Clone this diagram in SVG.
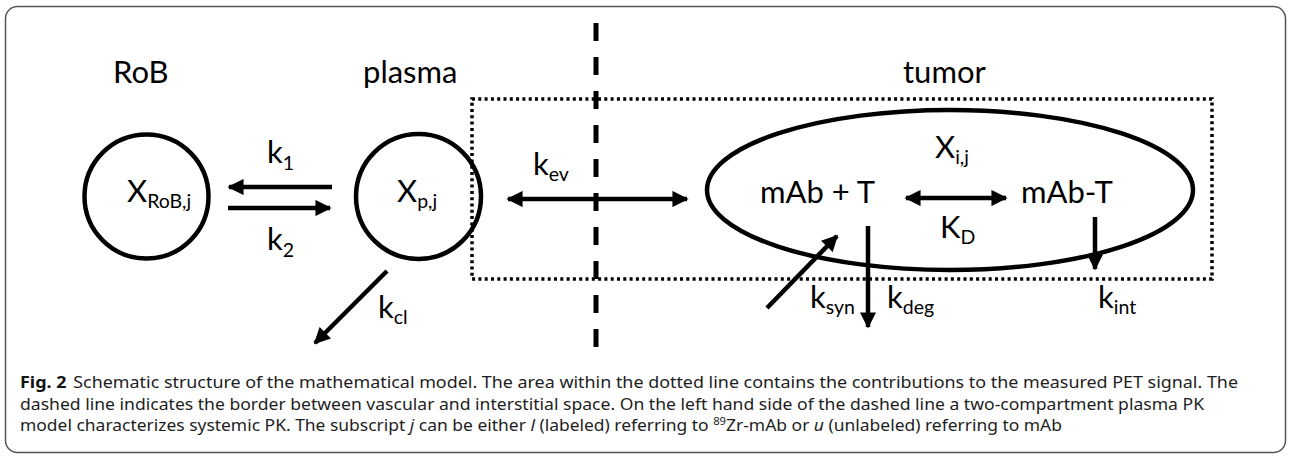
<svg xmlns="http://www.w3.org/2000/svg" width="1290" height="456" viewBox="0 0 1290 456">
<style>
.lbl{font-family:Lato,"Liberation Sans",sans-serif;font-size:31px;fill:#000}
.sub{font-size:19.5px}
.ln{stroke:#000;stroke-width:4.5;fill:none}
.cap{font-family:"Noto Sans","Liberation Sans",sans-serif;font-size:15.5px;fill:#1e1e1e}
</style>
<defs>
<marker id="ah" viewBox="0 0 10 10" refX="9" refY="5" markerWidth="4" markerHeight="3.6" orient="auto-start-reverse" markerUnits="strokeWidth">
<path d="M0,0 L10,5 L0,10 Z" fill="#000"/>
</marker>
</defs>
<rect x="5.5" y="6.5" width="1280" height="446" rx="12" fill="#fff" stroke="#555" stroke-width="1.5"/>

<g id="region-labels">
<text class="lbl" x="113" y="83">RoB</text>
<text class="lbl" x="363" y="83">plasma</text>
<text class="lbl" x="903" y="83">tumor</text>
</g>

<g id="boundaries">
<rect x="472" y="99" width="740" height="180" fill="none" stroke="#000" stroke-width="3.5" stroke-dasharray="3 3.3"/>
<line x1="596" y1="23" x2="596" y2="362" stroke="#000" stroke-width="5" stroke-dasharray="18 16"/>
</g>

<g id="node-rob">
<circle cx="146.5" cy="196.5" r="62" class="ln"/>
<text class="lbl" x="127" y="202">X<tspan class="sub" dy="6">RoB,j</tspan></text>
</g>

<g id="node-plasma">
<circle cx="418.5" cy="196.5" r="62.5" class="ln"/>
<text class="lbl" x="397" y="202">X<tspan class="sub" dy="6">p,j</tspan></text>
</g>

<g id="node-tumor">
<ellipse cx="950" cy="190" rx="243" ry="80" class="ln"/>
<text class="lbl" x="760" y="203">mAb + T</text>
<text class="lbl" x="1021" y="203">mAb-T</text>
<text class="lbl" x="935" y="158">X<tspan class="sub" dy="6">i,j</tspan></text>
<text class="lbl" x="940" y="238">K<tspan class="sub" dy="6">D</tspan></text>
</g>

<g id="connectors">
<line x1="332" y1="187" x2="229" y2="187" class="ln" marker-end="url(#ah)"/>
<line x1="228" y1="208" x2="330" y2="208" class="ln" marker-end="url(#ah)"/>
<line x1="508" y1="199" x2="687" y2="199" class="ln" marker-start="url(#ah)" marker-end="url(#ah)"/>
<line x1="906" y1="198" x2="1006" y2="198" class="ln" marker-start="url(#ah)" marker-end="url(#ah)"/>
<line x1="387" y1="271" x2="315" y2="343" class="ln" marker-end="url(#ah)"/>
<line x1="767" y1="308" x2="837" y2="236" class="ln" marker-end="url(#ah)"/>
<line x1="868" y1="226" x2="868" y2="327" class="ln" marker-end="url(#ah)"/>
<line x1="1095" y1="217" x2="1095" y2="269" class="ln" marker-end="url(#ah)"/>
</g>

<g id="rate-labels">
<text class="lbl" x="267" y="163">k<tspan class="sub" dy="7">1</tspan></text>
<text class="lbl" x="267" y="250">k<tspan class="sub" dy="7">2</tspan></text>
<text class="lbl" x="533" y="175">k<tspan class="sub" dy="6">ev</tspan></text>
<text class="lbl" x="378" y="318">k<tspan class="sub" dy="6">cl</tspan></text>
<text class="lbl" x="810" y="308">k<tspan class="sub" dy="6">syn</tspan></text>
<text class="lbl" x="887" y="308">k<tspan class="sub" dy="6">deg</tspan></text>
<text class="lbl" x="1098" y="308">k<tspan class="sub" dy="6">int</tspan></text>
</g>

<g id="caption">
<text class="cap" x="20" y="388" textLength="1218" lengthAdjust="spacingAndGlyphs"><tspan font-weight="bold" fill="#111">Fig. 2</tspan><tspan dx="6">Schematic structure of the mathematical model. The area within the dotted line contains the contributions to the measured PET signal. The</tspan></text>
<text class="cap" x="20" y="410" textLength="1184" lengthAdjust="spacingAndGlyphs">dashed line indicates the border between vascular and interstitial space. On the left hand side of the dashed line a two-compartment plasma PK</text>
<text class="cap" x="20" y="431" textLength="1042" lengthAdjust="spacingAndGlyphs">model characterizes systemic PK. The subscript <tspan font-style="italic">j</tspan> can be either <tspan font-style="italic">l</tspan> (labeled) referring to <tspan font-size="10" dy="-6">89</tspan><tspan dy="6">Zr-mAb or </tspan><tspan font-style="italic">u</tspan> (unlabeled) referring to mAb</text>
</g>
</svg>
